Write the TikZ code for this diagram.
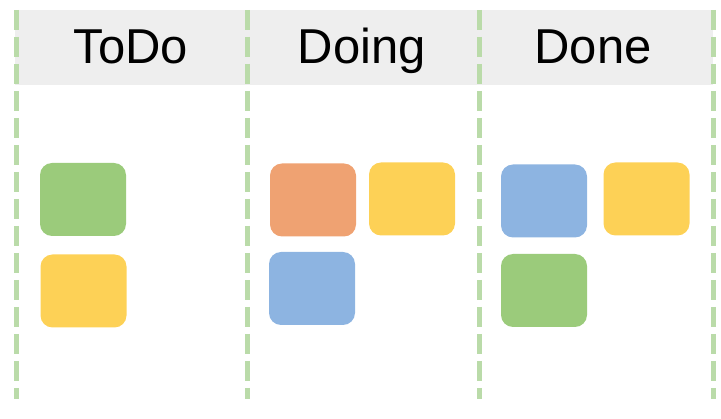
\documentclass[tikz,border=0pt]{standalone}
\usepackage{fontspec}
\setmainfont{Liberation Sans}
\definecolor{hdrgray}{HTML}{EEEEEE}
\definecolor{lanegreen}{HTML}{BADBA9}
\definecolor{cgreen}{HTML}{9BCB7B}
\definecolor{cyellow}{HTML}{FDD156}
\definecolor{corange}{HTML}{EFA272}
\definecolor{cblue}{HTML}{8DB4E1}
\begin{document}
\begin{tikzpicture}[x=1pt,y=-1pt,
  card/.style={rounded corners=12pt, minimum width=86pt, minimum height=73pt, inner sep=0pt, draw=none},
  lane/.style={draw=lanegreen, line width=5pt, dash pattern=on 20pt off 7pt},
  title/.style={font=\fontsize{49}{58}\selectfont, inner sep=0pt, anchor=base}]
\useasboundingbox (0,0) rectangle (721,419);
\fill[hdrgray] (15,10) rectangle (713,85);
\node[title] (t1) at (131,64) {ToDo};
\node[title] (t2) at (362,64) {Doing};
\node[title] (t3) at (593,64) {Done};
\foreach \i/\x in {1/16,2/247,3/479,4/713}{
  \coordinate (lt\i) at (\x,10);
  \coordinate (lb\i) at (\x,399);
  \draw[lane] (lt\i) -- (lb\i);
}
% ToDo
\node[card, fill=cgreen] (a1) at (83,199.5) {};
\node[card, fill=cyellow] (a2) at (83.5,291) {};
% Doing
\node[card, fill=corange] (b1) at (313,200) {};
\node[card, fill=cyellow] (b2) at (412,199) {};
\node[card, fill=cblue] (b3) at (312,288.5) {};
% Done
\node[card, fill=cblue] (c1) at (544,201) {};
\node[card, fill=cyellow] (c2) at (646.5,199) {};
\node[card, fill=cgreen] (c3) at (544,290.5) {};
\end{tikzpicture}
\end{document}
